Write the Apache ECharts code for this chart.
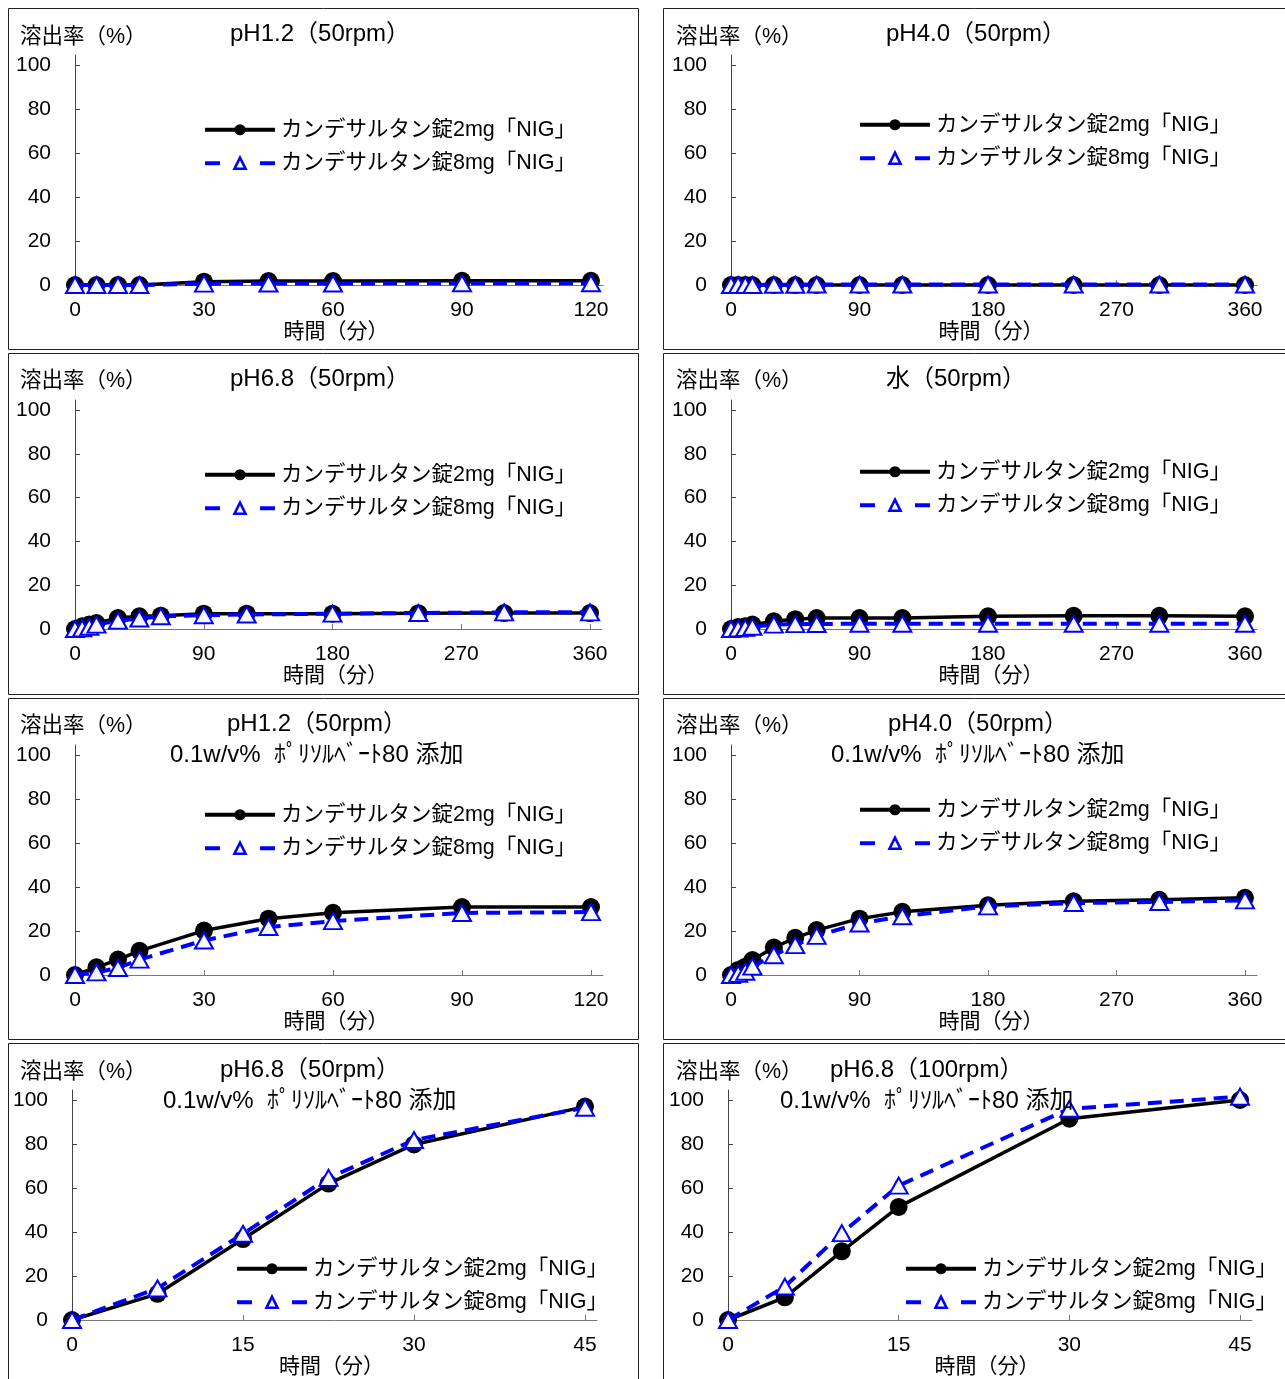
<!DOCTYPE html>
<html><head><meta charset="utf-8">
<script src="https://cdn.jsdelivr.net/npm/echarts@6/dist/echarts.min.js"></script>
<style>html,body{margin:0;padding:0;background:#fff}#c{width:1285px;height:1379px}</style>
</head><body><div id="c"></div>
<script>
// ---------- data ----------
const NAME_2MG = 'カンデサルタン錠2mg「NIG」';
const NAME_8MG = 'カンデサルタン錠8mg「NIG」';
const Y_AXIS_NAME = '溶出率（%）';
const X_AXIS_NAME = '時間（分）';
const SUBTITLE = '0.1w/v%  ﾎﾟﾘｿﾙﾍﾞｰﾄ80 添加';

const TIME_120 = [0, 5, 10, 15, 30, 45, 60, 90, 120];
const TIME_360 = [0, 5, 10, 15, 30, 45, 60, 90, 120, 180, 240, 300, 360];
const TIME_P7 = [0, 7.5, 15, 22.5, 30, 45];
const TIME_P8 = [0, 5, 10, 15, 30, 45];

const X_TICKS_120 = [0, 30, 60, 90, 120];
const X_TICKS_360 = [0, 90, 180, 270, 360];
const X_TICKS_45 = [0, 15, 30, 45];
const Y_TICKS = [0, 20, 40, 60, 80, 100];

// pH1.2 (50rpm)
const PH12_2MG = [0, 0, 0, 0, 1.5, 1.8, 1.8, 1.9, 1.9];
const PH12_8MG = [0, 0, 0, 0, 0.6, 0.7, 0.7, 0.8, 0.8];
// pH4.0 (50rpm)
const PH40_2MG = [0, 0, 0, 0, 0, 0, 0, 0, 0, 0, 0, 0, 0];
const PH40_8MG = [0, 0, 0, 0, 0.1, 0.1, 0.2, 0.2, 0.2, 0.2, 0.2, 0.2, 0.2];
// pH6.8 (50rpm)
const PH68_2MG = [0, 1.2, 2, 2.7, 5, 5.8, 6.1, 7, 7, 7, 7.2, 7.3, 7.3];
const PH68_8MG = [0, 0.3, 1, 2, 3.8, 4.8, 5.8, 6.3, 6.6, 7, 7.3, 7.6, 7.6];
// water (50rpm)
const WATER_2MG = [0, 0.9, 1.2, 2, 3.5, 4.5, 5, 5, 5, 5.8, 6, 6, 5.8];
const WATER_8MG = [0, 0.2, 0.5, 1, 2, 2.2, 2.3, 2.4, 2.4, 2.4, 2.4, 2.4, 2.4];
// pH1.2 + polysorbate 80
const PH12PS_2MG = [0, 3.5, 7, 11, 20.2, 25.6, 28.3, 30.9, 30.9];
const PH12PS_8MG = [0, 1.2, 3.2, 7, 15.7, 21.8, 24.5, 28.2, 28.6];
// pH4.0 + polysorbate 80
const PH40PS_2MG = [0, 2.3, 3.8, 6.8, 12.5, 16.9, 20.4, 25.6, 28.7, 31.7, 33.5, 34.2, 35.1];
const PH40PS_8MG = [0, 0.5, 1.5, 3.8, 9, 13.6, 17.8, 23.4, 26.7, 31.2, 32.7, 33.2, 33.9];
// pH6.8 (50rpm) + polysorbate 80
const PH68PS50_2MG = [0, 11.9, 36.8, 62, 79.8, 97];
const PH68PS50_8MG = [0, 14.4, 39.2, 64.6, 81.8, 96.5];
// pH6.8 (100rpm) + polysorbate 80
const PH68PS100_2MG = [0, 10.3, 31.2, 51.4, 91.5, 100];
const PH68PS100_8MG = [0, 15.2, 39.5, 61.1, 96, 101.5];

// ---------- layout ----------
const FONT = "'Liberation Sans', Arial, 'Noto Sans CJK JP', sans-serif";
const FS = 21;
const panels = [
  {title: 'pH1.2（50rpm）', sub: null, t: TIME_120, a: PH12_2MG, b: PH12_8MG, xmax: 120, xt: X_TICKS_120,
   x0: 75, x1: 591, y0: 285, y100: 65, box: [8, 8, 630, 341], tx: 230, ty: 34, sx: 0, sy: 0, nx: 20, ny: 36, lx: 203, ly: 129},
  {title: 'pH4.0（50rpm）', sub: null, t: TIME_360, a: PH40_2MG, b: PH40_8MG, xmax: 360, xt: X_TICKS_360,
   x0: 731, x1: 1245, y0: 285, y100: 65, box: [663, 8, 640, 341], tx: 886, ty: 34, sx: 0, sy: 0, nx: 676, ny: 36, lx: 858, ly: 124},
  {title: 'pH6.8（50rpm）', sub: null, t: TIME_360, a: PH68_2MG, b: PH68_8MG, xmax: 360, xt: X_TICKS_360,
   x0: 75, x1: 590, y0: 629, y100: 410, box: [8, 353, 630, 341], tx: 230, ty: 379, sx: 0, sy: 0, nx: 20, ny: 380, lx: 203, ly: 474},
  {title: '水（50rpm）', sub: null, t: TIME_360, a: WATER_2MG, b: WATER_8MG, xmax: 360, xt: X_TICKS_360,
   x0: 731, x1: 1245, y0: 629, y100: 410, box: [663, 353, 640, 341], tx: 886, ty: 379, sx: 0, sy: 0, nx: 676, ny: 380, lx: 858, ly: 471},
  {title: 'pH1.2（50rpm）', sub: SUBTITLE, t: TIME_120, a: PH12PS_2MG, b: PH12PS_8MG, xmax: 120, xt: X_TICKS_120,
   x0: 75, x1: 591, y0: 975, y100: 755, box: [8, 698, 630, 341], tx: 227, ty: 724, sx: 170, sy: 755, nx: 20, ny: 725, lx: 203, ly: 814},
  {title: 'pH4.0（50rpm）', sub: SUBTITLE, t: TIME_360, a: PH40PS_2MG, b: PH40PS_8MG, xmax: 360, xt: X_TICKS_360,
   x0: 731, x1: 1245, y0: 975, y100: 755, box: [663, 698, 640, 341], tx: 888, ty: 724, sx: 831, sy: 755, nx: 676, ny: 725, lx: 858, ly: 809},
  {title: 'pH6.8（50rpm）', sub: SUBTITLE, t: TIME_P7, a: PH68PS50_2MG, b: PH68PS50_8MG, xmax: 45, xt: X_TICKS_45,
   x0: 72, x1: 585, y0: 1320, y100: 1100, box: [8, 1043, 630, 360], tx: 220, ty: 1070, sx: 163, sy: 1101, nx: 20, ny: 1071, lx: 235, ly: 1268},
  {title: 'pH6.8（100rpm）', sub: SUBTITLE, t: TIME_P8, a: PH68PS100_2MG, b: PH68PS100_8MG, xmax: 45, xt: X_TICKS_45,
   x0: 728, x1: 1240, y0: 1320, y100: 1100, box: [663, 1043, 640, 360], tx: 830, ty: 1070, sx: 780, sy: 1101, nx: 676, ny: 1071, lx: 904, ly: 1268}
];

const X_EXT = 12, Y_EXT = 10;
const grid = [], xAxis = [], yAxis = [], series = [], title = [], legend = [], graphic = [];
const txt = (size) => ({fontFamily: FONT, fontSize: size, fontWeight: 'normal', color: '#000', lineHeight: size});

panels.forEach((p, i) => {
  const pw = p.x1 - p.x0, ph = p.y0 - p.y100;
  grid.push({left: p.x0, top: p.y100 - Y_EXT, width: pw + X_EXT, height: ph + Y_EXT, containLabel: false});
  xAxis.push({
    type: 'value', gridIndex: i, min: 0, max: p.xmax * (pw + X_EXT) / pw,
    axisLine: {show: true, lineStyle: {color: '#777', width: 1}},
    axisTick: {show: true, inside: true, length: 5, customValues: p.xt, lineStyle: {color: '#777'}},
    axisLabel: {customValues: p.xt, margin: 15, fontSize: FS, fontFamily: FONT, color: '#000'},
    splitLine: {show: false},
    name: X_AXIS_NAME, nameLocation: 'middle', nameGap: 36,
    nameTextStyle: {fontSize: FS, fontFamily: FONT, color: '#000', padding: [0, X_EXT / 2, 0, 0]}
  });
  yAxis.push({
    type: 'value', gridIndex: i, min: 0, max: 100 * (ph + Y_EXT) / ph,
    axisLine: {show: true, lineStyle: {color: '#444', width: 1}},
    axisTick: {show: true, inside: true, length: 5, customValues: Y_TICKS, lineStyle: {color: '#444'}},
    axisLabel: {customValues: Y_TICKS, margin: 24, fontSize: FS, fontFamily: FONT, color: '#000'},
    splitLine: {show: false}
  });
  series.push({
    type: 'line', name: NAME_2MG, xAxisIndex: i, yAxisIndex: i, clip: false, z: 3,
    data: p.t.map((x, k) => [x, p.a[k]]),
    symbol: 'circle', symbolSize: 18,
    lineStyle: {color: '#000', width: 3.5},
    itemStyle: {color: '#000'}
  });
  series.push({
    type: 'line', name: NAME_8MG, xAxisIndex: i, yAxisIndex: i, clip: false, z: 4,
    data: p.t.map((x, k) => [x, p.b[k]]),
    symbol: 'triangle', symbolSize: [18, 16],
    lineStyle: {color: '#0000ff', width: 4, type: [14, 8]},
    itemStyle: {color: '#f8f8f8', borderColor: '#0000ff', borderWidth: 2}
  });
  title.push({text: Y_AXIS_NAME, left: p.nx, top: p.ny - 10, padding: 0, textStyle: txt(21.5)});
  title.push({text: p.title, left: p.tx, top: p.ty - 12, padding: 0, textStyle: txt(24)});
  if (p.sub) title.push({text: p.sub, left: p.sx, top: p.sy - 12, padding: 0, textStyle: txt(24)});
  legend.push({
    data: [
      {name: NAME_2MG, lineStyle: {width: 4, color: '#000'}},
      {name: NAME_8MG, lineStyle: {width: 4, color: '#0000ff', type: [15, 40]}, itemStyle: {borderWidth: 2.5}}
    ],
    orient: 'vertical', left: p.lx, top: p.ly - 10, padding: 0,
    itemWidth: 70, itemHeight: 14, itemGap: 12,
    textStyle: {fontFamily: FONT, fontSize: 21.5, color: '#000', padding: [0, 0, 0, 1]}
  });
  graphic.push({type: 'rect', silent: true, z: 0,
    shape: {x: p.box[0] + 0.5, y: p.box[1] + 0.5, width: p.box[2], height: p.box[3]},
    style: {fill: 'none', stroke: '#222', lineWidth: 1}});
});

const chart = echarts.init(document.getElementById('c'), null, {renderer: 'canvas'});
chart.setOption({animation: false, backgroundColor: '#fff', grid, xAxis, yAxis, series, title, legend, graphic});
</script></body></html>
